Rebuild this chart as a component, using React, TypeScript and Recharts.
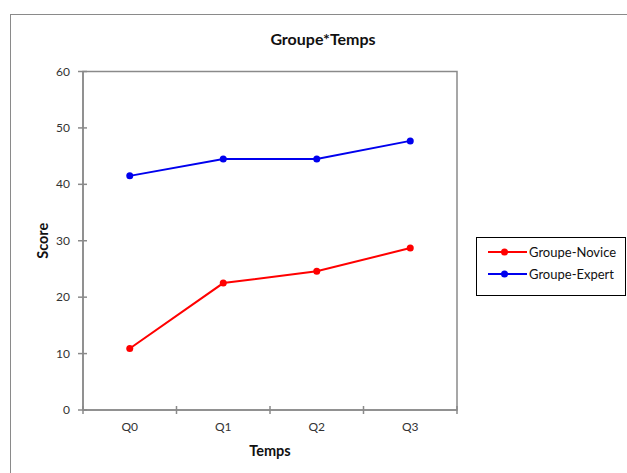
import React from 'react';
import { LineChart, Line, XAxis, YAxis, ReferenceArea, Legend } from 'recharts';

const categories = ['Q0', 'Q1', 'Q2', 'Q3'];
const noviceScores = [10.9, 22.5, 24.6, 28.7];
const expertScores = [41.5, 44.5, 44.5, 47.7];
const yTicks = [0, 10, 20, 30, 40, 50, 60];
const seriesNames = ['Groupe-Novice', 'Groupe-Expert'];

const data = categories.map((c, i) => ({ temps: c, novice: noviceScores[i], expert: expertScores[i] }));

const FONT = 'Lato, "Open Sans", sans-serif';
const AXIS = '#8a8a8a';

const YTick = (props: any) => {
  const { x, y, payload } = props;
  return (
    <g>
      <line x1={x - 5} x2={x + 4} y1={y} y2={y} stroke={AXIS} strokeWidth={1.5} />
      <text x={x - 13} y={y} dy={4} textAnchor="end" fontSize={12} fill="#333" fontFamily={FONT}>
        {payload.value}
      </text>
    </g>
  );
};

const XTick = (props: any) => {
  const { x, y, payload, index } = props;
  const half = payload && payload.offset ? payload.offset : 46.75;
  return (
    <g>
      {index === 0 && <line x1={x - half} x2={x - half} y1={y - 4} y2={y + 4} stroke={AXIS} strokeWidth={1.5} />}
      <line x1={x + half} x2={x + half} y1={y - 4} y2={y + 4} stroke={AXIS} strokeWidth={1.5} />
      <text x={x} y={y + 21} textAnchor="middle" fontSize={12} fill="#333" fontFamily={FONT}>
        {payload.value}
      </text>
    </g>
  );
};

const LegendBox = (props: any) => {
  const items = [...(props.payload || [])].sort(
    (a: any, b: any) => seriesNames.indexOf(a.value) - seriesNames.indexOf(b.value)
  );
  return (
    <div
      style={{
        width: 150,
        height: 59,
        border: '1px solid #000',
        boxSizing: 'border-box',
        background: '#fff',
        position: 'relative',
        fontFamily: FONT,
        fontSize: 13,
        color: '#111',
      }}
    >
      {items.map((it: any, i: number) => (
        <div key={it.value} style={{ position: 'absolute', left: 0, top: 6 + i * 22, height: 16, display: 'flex', alignItems: 'center' }}>
          <svg width={52} height={16} style={{ display: 'block' }}>
            <line x1={11} x2={50} y1={8} y2={8} stroke={it.color} strokeWidth={2} />
            <circle cx={27.5} cy={8} r={3.5} fill={it.color} />
          </svg>
          <span style={{ lineHeight: '16px', whiteSpace: 'nowrap' }}>{it.value}</span>
        </div>
      ))}
    </div>
  );
};

export default function App() {
  return (
    <div style={{ position: 'absolute', left: 0, top: 0, width: 627, height: 473, overflow: 'hidden', background: '#fff' }}>
      <div
        style={{
          position: 'absolute',
          left: 10,
          top: 14,
          width: 700,
          height: 600,
          border: '1px solid #8a8a8a',
        }}
      />
      <div
        style={{
          position: 'absolute',
          left: 223,
          top: 29,
          width: 200,
          textAlign: 'center',
          fontFamily: FONT,
          fontWeight: 'bold',
          fontSize: 16,
          color: '#111',
          lineHeight: '20px',
        }}
      >
        Groupe*Temps
      </div>
      <div style={{ position: 'absolute', left: 0, top: 0 }}>
        <LineChart width={627} height={473} data={data} margin={{ top: 71.5, right: 170, bottom: 0, left: 0 }}>
          <ReferenceArea y1={0} y2={60} fill="none" stroke={AXIS} strokeWidth={1.5} />
          <XAxis
            dataKey="temps"
            scale="band"
            height={63}
            tickSize={0}
            tickMargin={0}
            tickLine={false}
            axisLine={{ stroke: AXIS, strokeWidth: 1.5 }}
            tick={<XTick />}
            interval={0}
            label={{ value: 'Temps', position: 'insideBottom', offset: 17, fontFamily: FONT, fontWeight: 'bold', fontSize: 14.5, fill: '#111' }}
          />
          <YAxis
            domain={[0, 60]}
            ticks={yTicks}
            width={83}
            tickSize={0}
            tickMargin={0}
            tickLine={false}
            axisLine={{ stroke: AXIS, strokeWidth: 1.5 }}
            tick={<YTick />}
            interval={0}
            label={{ value: 'Score', angle: -90, position: 'center', dx: 1.5, fontFamily: FONT, fontWeight: 'bold', fontSize: 14.5, fill: '#111' }}
          />
          <Legend
            layout="vertical"
            align="center"
            verticalAlign="middle"
            wrapperStyle={{ left: 476, top: 237, width: 150, height: 59 }}
            content={<LegendBox />}
          />
          <Line
            name="Groupe-Novice"
            dataKey="novice"
            stroke="#ff0000"
            strokeWidth={2}
            dot={{ r: 3.5, fill: '#ff0000', stroke: '#ff0000', strokeWidth: 0 }}
            activeDot={false}
            isAnimationActive={false}
          />
          <Line
            name="Groupe-Expert"
            dataKey="expert"
            stroke="#0000ee"
            strokeWidth={2}
            dot={{ r: 3.5, fill: '#0000ee', stroke: '#0000ee', strokeWidth: 0 }}
            activeDot={false}
            isAnimationActive={false}
          />
        </LineChart>
      </div>
    </div>
  );
}
